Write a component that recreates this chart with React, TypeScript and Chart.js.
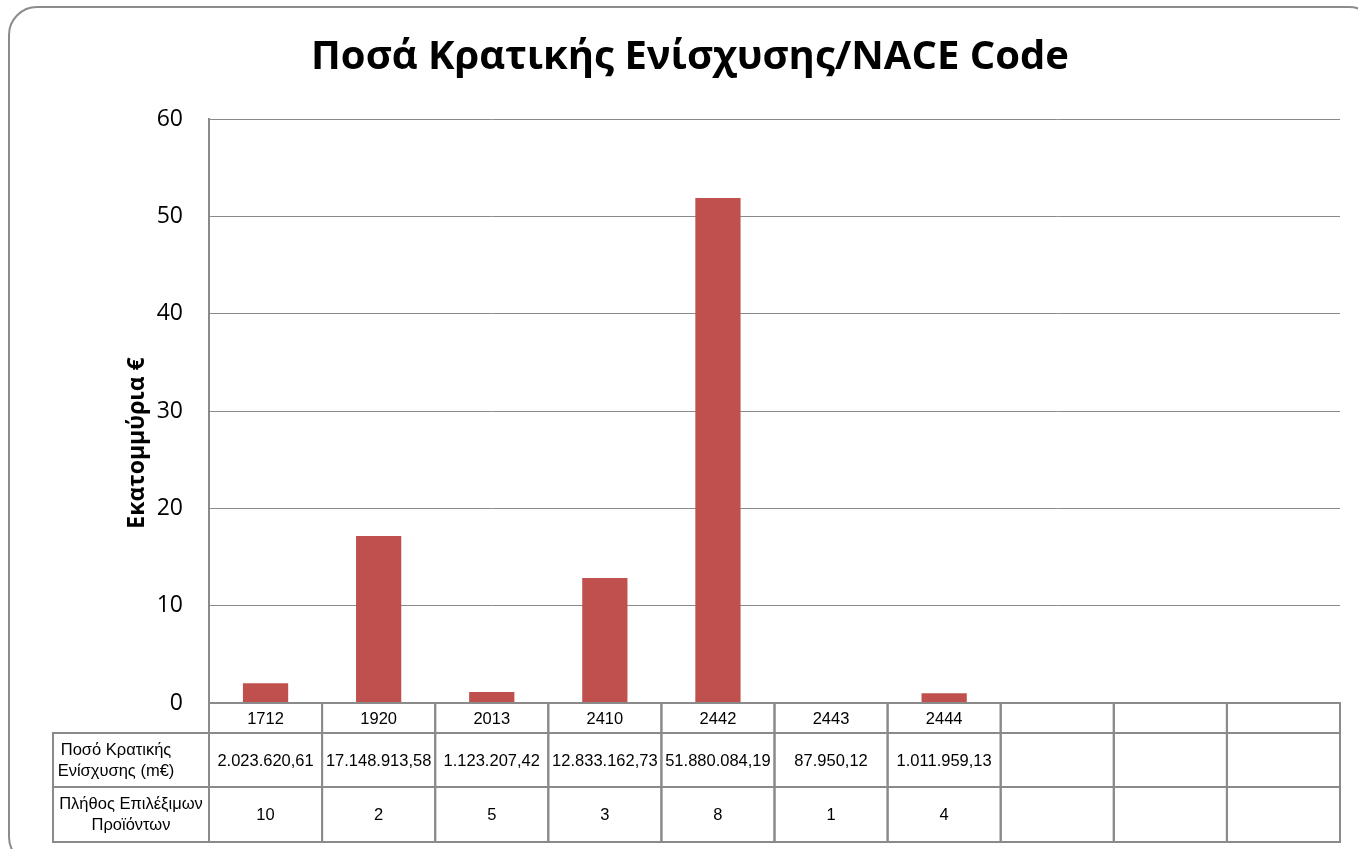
import React, { useEffect, useRef } from "react";
import { Chart, registerables } from "chart.js";

Chart.register(...registerables);

const chartTitle = "Ποσά Κρατικής Ενίσχυσης/NACE Code";
const yAxisTitle = "Εκατομμύρια €";
const categories = ["1712", "1920", "2013", "2410", "2442", "2443", "2444", "", "", ""];
const amountsMillions = [2.0236, 17.1489, 1.1232, 12.8332, 51.8801, 0.088, 1.012, null, null, null];
const amountLabels = [
  "2.023.620,61",
  "17.148.913,58",
  "1.123.207,42",
  "12.833.162,73",
  "51.880.084,19",
  "87.950,12",
  "1.011.959,13",
  "",
  "",
  "",
];
const productCounts = ["10", "2", "5", "3", "8", "1", "4", "", "", ""];
const rowLabels = [
  ["Ποσό Κρατικής", "Ενίσχυσης (m€)"],
  ["Πλήθος Επιλέξιμων", "Προϊόντων"],
];
const yMin = 0;
const yMax = 60;
const yStep = 10;

const W = 1358;
const H = 849;
const LINE = "#8a8a8a";

const decorPlugin = {
  id: "decor",
  beforeDraw(chart: any) {
    const ctx = chart.ctx;
    ctx.save();
    ctx.fillStyle = "#ffffff";
    ctx.fillRect(0, 0, W, H);
    // frame
    ctx.strokeStyle = "#8c8c8c";
    ctx.lineWidth = 2;
    ctx.beginPath();
    if (ctx.roundRect) ctx.roundRect(9, 7, 1368, 858, 28);
    else ctx.rect(9, 7, 1368, 858);
    ctx.stroke();
    ctx.restore();
  },
  afterDraw(chart: any) {
    const ctx = chart.ctx;
    const area = chart.chartArea;
    const xs = chart.scales.x;
    const n = categories.length;
    const cellW = (area.right - area.left) / n;
    ctx.save();
    // title
    ctx.fillStyle = "#000";
    ctx.font = "bold 40px 'Open Sans'";
    ctx.textAlign = "center";
    ctx.textBaseline = "alphabetic";
    ctx.fillText(chartTitle, 690, 69);
    ctx.textBaseline = "middle";
    // y axis title
    ctx.save();
    ctx.translate(137, 443);
    ctx.rotate(-Math.PI / 2);
    ctx.font = "bold 23px 'Open Sans'";
    ctx.fillText(yAxisTitle, 0, 0);
    ctx.restore();

    // data table
    const y0 = area.bottom;
    const y1 = y0 + 30;
    const y2 = y1 + 54;
    const y3 = y2 + 55;
    const labelLeft = 53;
    ctx.strokeStyle = LINE;
    ctx.lineWidth = 2;
    ctx.font = "16.5px 'Liberation Sans'";
    for (let i = 0; i < n; i++) {
      const cx = xs.getPixelForValue(i);
      const l = cx - cellW / 2;
      ctx.strokeRect(l, y0, cellW, y1 - y0);
      ctx.strokeRect(l, y1, cellW, y2 - y1);
      ctx.strokeRect(l, y2, cellW, y3 - y2);
      ctx.fillText(categories[i], cx, (y0 + y1) / 2 + 1);
      ctx.fillText(amountLabels[i], cx, (y1 + y2) / 2 + 1);
      ctx.fillText(productCounts[i], cx, (y2 + y3) / 2 + 1);
    }
    ctx.strokeRect(labelLeft, y1, area.left - labelLeft, y2 - y1);
    ctx.strokeRect(labelLeft, y2, area.left - labelLeft, y3 - y2);
    const lc = (labelLeft + area.left) / 2;
    ctx.fillText(rowLabels[0][0], lc - 15, (y1 + y2) / 2 - 10);
    ctx.fillText(rowLabels[0][1], lc - 15, (y1 + y2) / 2 + 11);
    ctx.fillText(rowLabels[1][0], lc, (y2 + y3) / 2 - 10);
    ctx.fillText(rowLabels[1][1], lc, (y2 + y3) / 2 + 11);
    ctx.restore();
  },
};

export default function App() {
  const ref = useRef<HTMLCanvasElement | null>(null);
  useEffect(() => {
    if (!ref.current) return;
    const chart = new Chart(ref.current, {
      type: "bar",
      data: {
        labels: categories,
        datasets: [
          {
            label: "Ποσό Κρατικής Ενίσχυσης",
            data: amountsMillions as any,
            backgroundColor: "#C0504D",
            borderWidth: 0,
            barPercentage: 0.4,
            categoryPercentage: 1,
          },
        ],
      },
      options: {
        animation: false,
        responsive: false,
        devicePixelRatio: 1,
        layout: { padding: { left: 0, top: 119, right: 18, bottom: 146 } },
        plugins: {
          legend: { display: false },
          tooltip: { enabled: false },
          title: { display: false },
        },
        scales: {
          x: {
            display: false,
            offset: true,
            grid: { display: false },
          },
          y: {
            min: yMin,
            max: yMax,
            ticks: {
              stepSize: yStep,
              color: "#000",
              padding: 26,
              font: { family: "'Open Sans'", size: 23 },
            },
            grid: { color: LINE, lineWidth: 1, drawTicks: false },
            border: { display: true, color: LINE, width: 2 },
            afterFit(scale: any) {
              scale.width = 209;
            },
          },
        },
      },
      plugins: [decorPlugin],
    });
    return () => chart.destroy();
  }, []);
  return (
    <div style={{ position: "absolute", left: 0, top: 0, width: W, height: H }}>
      <canvas ref={ref} width={W} height={H} style={{ display: "block" }} />
    </div>
  );
}
